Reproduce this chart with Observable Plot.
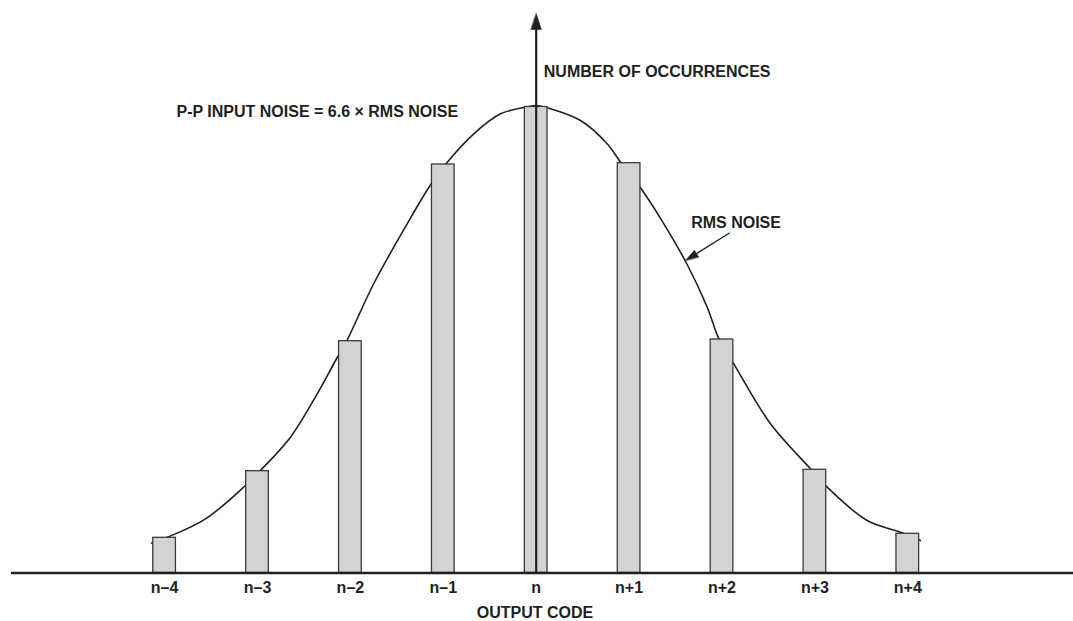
<!DOCTYPE html>
<html>
<head>
<meta charset="utf-8">
<script src="https://cdn.jsdelivr.net/npm/d3@7"></script>
<script src="https://cdn.jsdelivr.net/npm/@observablehq/plot@0.6"></script>
<style>
  html, body { margin: 0; padding: 0; background: #fff; }
</style>
</head>
<body>
<div id="chart"></div>
<script>
// ---- Data ----
const codes = [-4, -3, -2, -1, 0, 1, 2, 3, 4];
const codeLabels = ["n–4", "n–3", "n–2", "n–1", "n", "n+1", "n+2", "n+3", "n+4"];
const occurrences = [35.2, 101.8, 231.8, 408.5, 466, 409.8, 233.5, 103.2, 39.2];

// Gaussian envelope ("RMS NOISE")
const curveCode = [-4.141, -3.985, -3.559, -3.130, -2.968, -2.645, -2.357, -2.160, -2.034,
  -1.748, -1.389, -1.130, -0.966, -0.672, -0.384, -0.115, 0.003, 0.118, 0.477, 0.764,
  0.915, 1.130, 1.374, 1.625, 1.841, 1.966, 2.127, 2.522, 2.953, 3.132, 3.563, 3.921, 4.136];
const curveCount = [30, 35.2, 54.2, 87.5, 102.5, 135.8, 179.2, 212.5, 233.2,
  289.5, 349.2, 389.2, 409.8, 439.2, 459.2, 465.8, 467.5, 465.2, 452.5, 429.2,
  409.8, 384.2, 349.2, 308.5, 265.8, 234.2, 209.2, 149.2, 104.2, 85.8, 52.5, 40.8, 32.5];

// Annotation texts
const titleY = "NUMBER OF OCCURRENCES";
const titleX = "OUTPUT CODE";
const noteText = "P-P INPUT NOISE = 6.6 × RMS NOISE";
const curveLabel = "RMS NOISE";

// ---- Layout ----
const W = 1073, H = 621;
const baseY = 572.5;            // pixel row of the x axis line
const x0 = 535.7, step = 92.9;  // pixel of code n, pixels per code
const px = c => x0 + c * step;
const pyv = v => baseY - v;
const inkColor = "#231f20";
const font = "'Liberation Sans', Arial, Helvetica, sans-serif";

const bars = codes.map((c, i) => ({code: c, count: occurrences[i], label: codeLabels[i]}));
const curve = curveCode.map((c, i) => ({c, v: curveCount[i]}));

// annotation anchors (data units)
const mainArrowTip = {c: 0, v: baseY - 13};
const rmsStart = {c: 2.084, v: 340.2};
const rmsTip = {c: 1.607, v: 312.5};

// filled triangular arrowhead shape for Plot.vector
const headShape = {
  draw(ctx, l, r) {
    ctx.moveTo(0, -l);
    ctx.lineTo(r, 0);
    ctx.lineTo(-r, 0);
    ctx.closePath();
  }
};

// RMS arrow geometry (screen angle)
const dxp = px(rmsTip.c) - px(rmsStart.c);
const dyp = pyv(rmsTip.v) - pyv(rmsStart.v);
const lenp = Math.hypot(dxp, dyp);
const rmsRotate = Math.atan2(dxp, -dyp) * 180 / Math.PI;
const rmsHeadLen = 13;
const rmsHeadBase = {
  c: rmsTip.c - (rmsHeadLen * dxp / lenp) / step,
  v: rmsTip.v + (rmsHeadLen * dyp / lenp)
};
const mainHeadLen = 16;

const chart = Plot.plot({
  width: W,
  height: H,
  marginTop: 0,
  marginBottom: H - baseY,
  marginLeft: 0,
  marginRight: 0,
  x: {type: "linear", domain: [-4, 4], range: [px(-4), px(4)], axis: null},
  y: {type: "linear", domain: [0, baseY], range: [baseY, 0], axis: null},
  style: {background: "#fff", fontFamily: font, color: inkColor},
  marks: [
    // envelope curve (drawn behind bars)
    Plot.line(curve, {x: "c", y: "v", curve: "catmull-rom", stroke: inkColor, strokeWidth: 1.6}),
    // histogram bars
    Plot.rectY(bars, {
      x1: d => d.code - 0.122, x2: d => d.code + 0.122, y: "count",
      fill: "#d2d3d5", stroke: "#3a3a3a", strokeWidth: 1.3
    }),
    // x axis line
    Plot.ruleY([0], {x1: (11 - x0) / step, x2: (W - x0) / step, stroke: inkColor, strokeWidth: 2.3}),
    // vertical axis arrow
    Plot.ruleX([0], {y1: 0, y2: mainArrowTip.v - mainHeadLen + 1, stroke: inkColor, strokeWidth: 2.2}),
    Plot.vector([mainArrowTip], {x: "c", y: "v", length: mainHeadLen, r: 5.2, rotate: 0, anchor: "end",
      shape: headShape, fill: inkColor, stroke: inkColor, strokeWidth: 0.5}),
    // RMS NOISE pointer
    Plot.link([{a: rmsStart, b: rmsHeadBase}], {
      x1: d => d.a.c, y1: d => d.a.v, x2: d => d.b.c, y2: d => d.b.v,
      stroke: inkColor, strokeWidth: 1.3
    }),
    Plot.vector([rmsTip], {x: "c", y: "v", length: rmsHeadLen, r: 4, rotate: rmsRotate, anchor: "end",
      shape: headShape, fill: inkColor, stroke: inkColor, strokeWidth: 0.5}),
    // tick labels
    Plot.text(bars, {x: "code", y: 0, text: "label", dy: 14.9, fontSize: 16, fontWeight: "bold",
      fill: inkColor, textAnchor: "middle"}),
    // axis titles and notes
    Plot.text([titleX], {x: -0.013, y: 0, text: d => d, dy: 39.5, fontSize: 16, fontWeight: "bold",
      fill: inkColor, textAnchor: "middle"}),
    Plot.text([titleY], {x: 0.082, y: 501.6, text: d => d, fontSize: 16, fontWeight: "bold",
      fill: inkColor, textAnchor: "start"}),
    Plot.text([noteText], {x: -3.872, y: 461.1, text: d => d, fontSize: 16, fontWeight: "bold",
      fill: inkColor, textAnchor: "start"}),
    Plot.text([curveLabel], {x: 1.668, y: 350.3, text: d => d, fontSize: 16, fontWeight: "bold",
      fill: inkColor, textAnchor: "start"})
  ]
});
document.getElementById("chart").appendChild(chart);
</script>
</body>
</html>
